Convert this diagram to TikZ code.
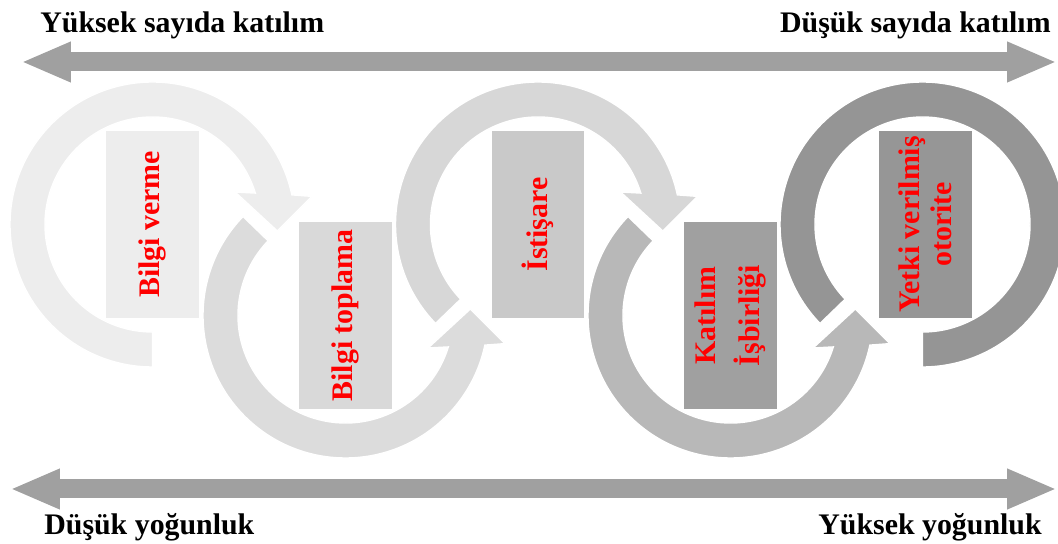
\documentclass[tikz,border=0pt]{standalone}
\usepackage{fontspec}
\setmainfont{Liberation Serif}
\usetikzlibrary{arrows.meta}

\definecolor{ringA}{HTML}{EDEDED}
\definecolor{ringB}{HTML}{DCDCDC}
\definecolor{ringC}{HTML}{D7D7D7}
\definecolor{ringD}{HTML}{B8B8B8}
\definecolor{ringE}{HTML}{959595}
\definecolor{boxA}{HTML}{EDEDED}
\definecolor{boxB}{HTML}{D9D9D9}
\definecolor{boxC}{HTML}{C9C9C9}
\definecolor{boxD}{HTML}{A0A0A0}
\definecolor{boxE}{HTML}{969696}
\definecolor{barcol}{HTML}{A0A0A0}

\begin{document}
\begin{tikzpicture}[x=0.02cm, y=0.02cm,
  ring/.style={draw=white, line width=0.8pt},
  box/.style={rotate=90, minimum width=3.74cm, minimum height=1.86cm,
    inner sep=0pt, align=center, text=red,
    font=\bfseries\fontsize{17}{18}\selectfont},
  scalebar/.style={line width=0.38cm, draw=barcol,
    {Triangle[length=1cm,width=0.74cm]}-{Triangle[length=1cm,width=0.74cm]}},
  scaletext/.style={inner sep=0pt, font=\bfseries\fontsize{17}{20}\selectfont}]
\clip (0,0) rectangle (1058,544);

% ring centres
\coordinate (c1) at (152.5,319.5);
\coordinate (c2) at (345.5,228.5);
\coordinate (c3) at (538,319.5);
\coordinate (c4) at (730.5,228.5);
\coordinate (c5) at (922.5,319.5);

% circular arrows
\fill[ring, fill=ringA, shift={(c1)}] (270:142.5) arc[start angle=270, end angle=12, radius=142.5]
  -- (10:162) -- (-3:125) -- (21.5:88.7) -- (17:107.5)
  arc[start angle=17, end angle=270, radius=107.5] -- cycle;
\fill[ring, fill=ringB, shift={(c2)}] (136:142.5) arc[start angle=136, end angle=348, radius=142.5]
  -- (350:162) -- (363:125) -- (338.5:88.7) -- (343:107.5)
  arc[start angle=343, end angle=136, radius=107.5] -- cycle;
\fill[ring, fill=ringC, shift={(c3)}] (224:142.5) arc[start angle=224, end angle=12, radius=142.5]
  -- (10:162) -- (-3:125) -- (21.5:88.7) -- (17:107.5)
  arc[start angle=17, end angle=224, radius=107.5] -- cycle;
\fill[ring, fill=ringD, shift={(c4)}] (136:142.5) arc[start angle=136, end angle=348, radius=142.5]
  -- (350:162) -- (363:125) -- (338.5:88.7) -- (343:107.5)
  arc[start angle=343, end angle=136, radius=107.5] -- cycle;
\fill[ring, fill=ringE, shift={(c5)}] (224:142.5) arc[start angle=224, end angle=-90, radius=142.5]
  -- (-90:107.5) arc[start angle=-90, end angle=224, radius=107.5] -- cycle;

% stages
\node[box, fill=boxA] (verme) at (c1) {Bilgi verme};
\node[box, fill=boxB] (toplama) at (c2) {Bilgi toplama};
\node[box, fill=boxC] (istisare) at (c3) {İstişare};
\node[box, fill=boxD] (isbirligi) at (c4) {Katılım\\[7pt]İşbirliği};
\node[box, fill=boxE] (otorite) at ([xshift=1.5]c5) {Yetki verilmiş\\otorite};

% scales
\coordinate (topL) at (21,482);
\coordinate (topR) at (1057,482);
\coordinate (botL) at (10,55);
\coordinate (botR) at (1057,55);
\draw[scalebar] (topL) -- (topR);
\draw[scalebar] (botL) -- (botR);

\node[scaletext, anchor=base west] (cokkatilim) at (40,511) {Yüksek sayıda katılım};
\node[scaletext, anchor=base east] (azkatilim) at (1051,511) {Düşük sayıda katılım};
\node[scaletext, anchor=base west] (azyogun) at (44,9) {Düşük yoğunluk};
\node[scaletext, anchor=base east] (cokyogun) at (1042,9) {Yüksek yoğunluk};
\end{tikzpicture}
\end{document}
